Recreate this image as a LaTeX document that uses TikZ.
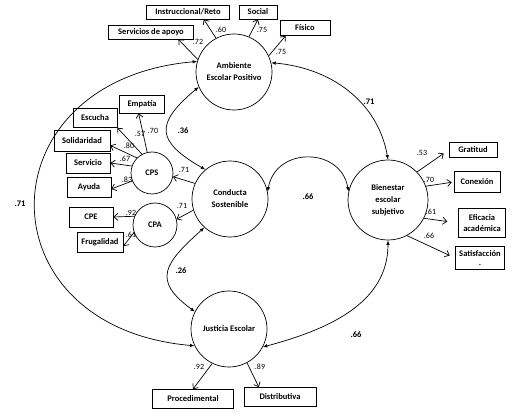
\documentclass[tikz,border=0pt]{standalone}
\usepackage{fontspec}
\setmainfont{Carlito}
\usetikzlibrary{arrows.meta}

\begin{document}
\begin{tikzpicture}[x=1pt, y=1pt, line width=0.7pt,
    latent/.style={circle, draw, align=center, inner sep=0pt,
      font=\fontsize{8.5}{12}\selectfont\bfseries},
    box/.style={rectangle, draw, align=center, inner sep=1pt,
      font=\fontsize{8.5}{11}\selectfont\bfseries},
    ind/.style={-{Straight Barb[length=4pt,width=7pt]}},
    cov/.style={{Latex[length=4.5pt,width=3.5pt]}-{Latex[length=4.5pt,width=3.5pt]}},
    lbl/.style={font=\fontsize{8}{9}\selectfont, inner sep=0pt},
    clbl/.style={font=\fontsize{8.5}{10}\selectfont\bfseries, inner sep=0pt}]
  \useasboundingbox (0,0) rectangle (522,-419);
  % latent variables
  \node[latent, minimum size=76pt] (amb) at (234,-72) {Ambiente\\Escolar Positivo};
  \node[latent, minimum size=76pt] (con) at (230,-199) {Conducta\\Sostenible};
  \node[latent, minimum size=80pt] (bie) at (388,-200) {Bienestar\\escolar\\subjetivo};
  \node[latent, minimum size=76pt] (jus) at (229,-329) {Justicia Escolar};
  \node[latent, minimum size=42pt] (cps) at (152,-173) {CPS};
  \node[latent, minimum size=44pt] (cpa) at (155,-225) {CPA};
  % indicators
  \node[box, minimum width=83pt, minimum height=14pt] (instr) at (188,-12) {Instruccional/Reto};
  \node[box, minimum width=38pt, minimum height=14pt] (social) at (258,-12) {Social};
  \node[box, minimum width=85pt, minimum height=14pt] (servap) at (151,-32) {Servicios de apoyo};
  \node[box, minimum width=50pt, minimum height=15pt] (fisico) at (305,-28) {Físico};
  \node[box, minimum width=45pt, minimum height=18pt] (empatia) at (142,-104) {Empatía};
  \node[box, minimum width=44pt, minimum height=19pt] (escucha) at (95,-118) {Escucha};
  \node[box, minimum width=56pt, minimum height=21pt] (solid) at (82,-141) {Solidaridad};
  \node[box, minimum width=44pt, minimum height=20pt] (servicio) at (88,-163) {Servicio};
  \node[box, minimum width=44pt, minimum height=20pt] (ayuda) at (89,-187) {Ayuda};
  \node[box, minimum width=44pt, minimum height=20pt] (cpe) at (91,-217) {CPE};
  \node[box, minimum width=46pt, minimum height=20pt] (frug) at (100,-242) {Frugalidad};
  \node[box, minimum width=48pt, minimum height=15pt] (grat) at (473,-150) {Gratitud};
  \node[box, minimum width=46pt, minimum height=21pt] (conex) at (477,-182) {Conexión};
  \node[box, minimum width=47pt, minimum height=29pt] (efic) at (482,-223) {Eficacia\\académica};
  \node[box, minimum width=49pt, minimum height=23pt, font=\fontsize{8.5}{9}\selectfont\bfseries] (satis) at (480,-258) {Satisfacción\\.};
  \node[box, minimum width=81pt, minimum height=19pt] (proced) at (193,-399) {Procedimental};
  \node[box, minimum width=72pt, minimum height=19pt] (distr) at (280,-397) {Distributiva};
  % loadings
  \draw[ind] (amb.161) -- (servap.-15);
  \draw[ind] (amb.118) -- (instr.-25);
  \draw[ind] (amb.67) -- (social.south);
  \draw[ind] (amb.25) -- (fisico.-158);
  \draw[ind] (cps.103) -- (empatia.-110);
  \draw[ind] (cps.118) -- (escucha.south east);
  \draw[ind] (cps.135) -- (solid.-9);
  \draw[ind] (cps.161) -- (servicio.east);
  \draw[ind] (cps.202) -- (ayuda.-5);
  \draw[ind] (cpa.157) -- (cpe.east);
  \draw[ind] (cpa.200) -- (frug.-10);
  \draw[ind] (con.156) -- (cps.-10);
  \draw[ind] (con.197) -- (cpa.15);
  \draw[ind, shorten >=6pt] (bie.44) -- (grat.west);
  \draw[ind, shorten >=2pt] (bie.20) -- (conex.west);
  \draw[ind, shorten >=11pt] (bie.-27) -- (efic.west);
  \draw[ind, shorten >=6pt] (bie.-62) -- (satis.west);
  \draw[ind] (jus.244) -- (proced.north);
  \draw[ind] (jus.-62) -- (distr.155);
  \node[lbl] (l-servap) at (198,-42) {.72};
  \node[lbl] (l-instr) at (221,-30) {.60};
  \node[lbl] (l-social) at (262,-30) {.75};
  \node[lbl] (l-fisico) at (281,-52) {.75};
  \node[lbl] (l-empatia) at (153,-131) {.70};
  \node[lbl] (l-escucha) at (140,-134) {.57};
  \node[lbl] (l-solid) at (129,-146) {.80};
  \node[lbl] (l-servicio) at (125,-159) {.67};
  \node[lbl] (l-ayuda) at (127,-180) {.83};
  \node[lbl] (l-cpe) at (131,-213) {.92};
  \node[lbl] (l-frug) at (131,-235) {.61};
  \node[lbl] (l-cps) at (184,-170) {.71};
  \node[lbl] (l-cpa) at (182,-206) {.71};
  \node[lbl] (l-grat) at (422,-153) {.53};
  \node[lbl] (l-conex) at (429,-180) {.70};
  \node[lbl] (l-efic) at (431,-212) {.61};
  \node[lbl] (l-satis) at (429,-236) {.66};
  \node[lbl] (l-proced) at (199,-367) {.92};
  \node[lbl] (l-distr) at (260,-367) {.89};
  % correlations
  \draw[cov] (amb.164) to[out=185, in=175, looseness=1.93] (jus.206);
  \draw[cov] (amb.14) to[out=-5, in=100] (bie.90);
  \draw[cov] (amb.203) to[out=220, in=150, looseness=1.77] (con.130);
  \draw[cov] (con.11) to[out=80, in=100, looseness=1.45] (bie.168);
  \draw[cov] (con.228) to[out=222, in=144, looseness=1.62] (jus.153);
  \draw[cov] (jus.-28) to[out=15, in=-90] (bie.270);
  \node[clbl] (c-amb-jus) at (20,-204) {.71};
  \node[clbl] (c-amb-bie) at (369,-102) {.71};
  \node[clbl] (c-amb-con) at (183,-131) {.36};
  \node[clbl] (c-con-bie) at (308,-197) {.66};
  \node[clbl] (c-con-jus) at (181,-271) {.26};
  \node[clbl] (c-jus-bie) at (356,-335) {.66};
\end{tikzpicture}
\end{document}
